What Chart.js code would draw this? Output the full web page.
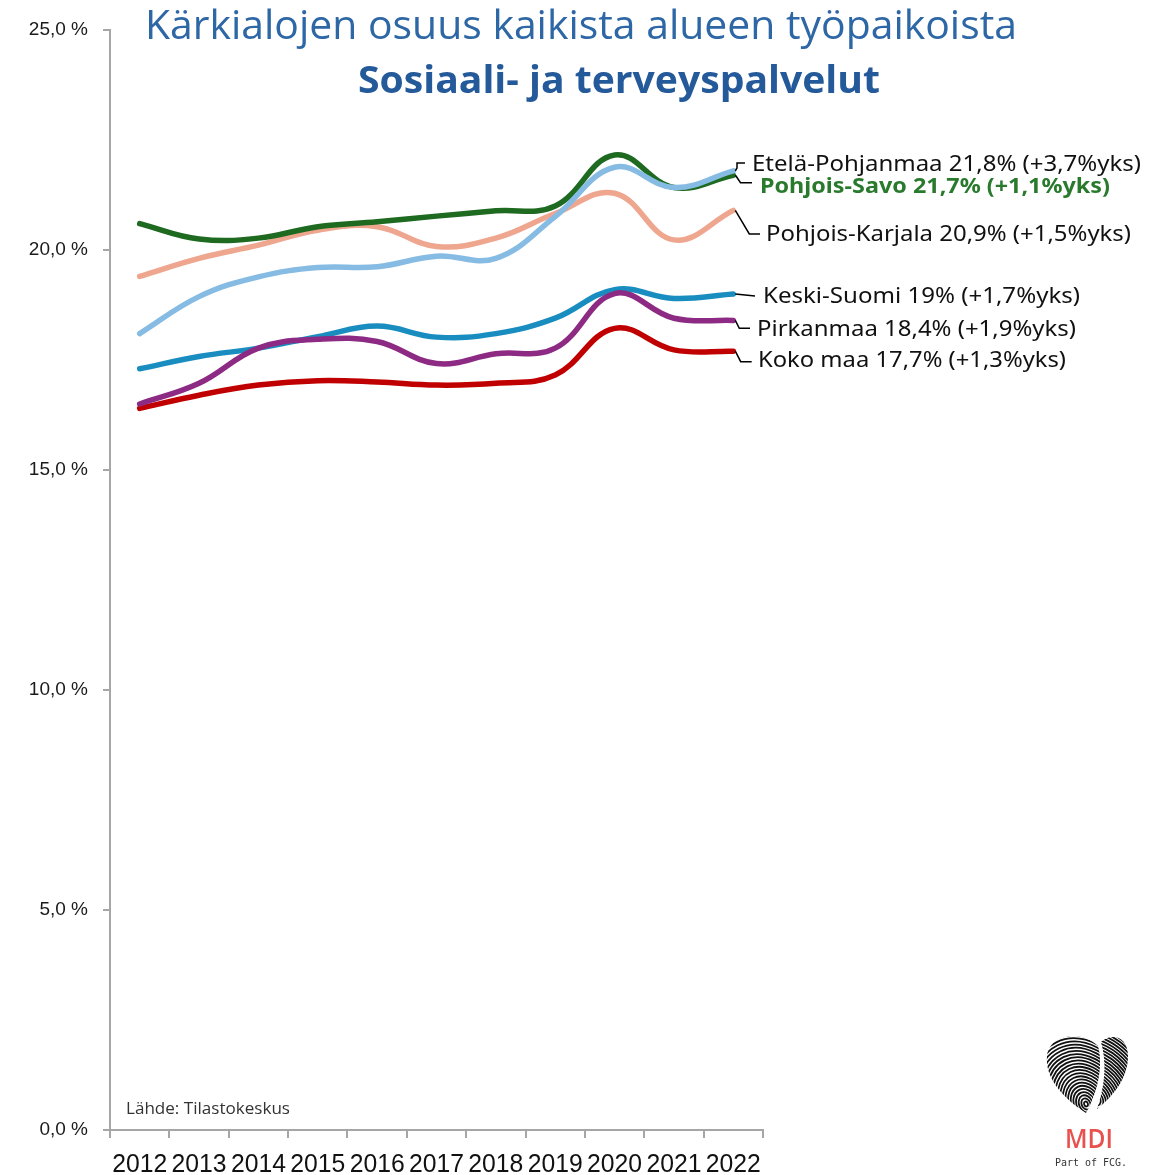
<!DOCTYPE html>
<html lang="fi">
<head>
<meta charset="utf-8">
<title>Kärkialojen osuus kaikista alueen työpaikoista</title>
<script src="https://cdn.jsdelivr.net/npm/chart.js@4/dist/chart.umd.min.js"></script>
<style>
  html, body { margin: 0; padding: 0; background: #ffffff; }
  #wrap { position: relative; width: 1150px; height: 1175px; }
  canvas { display: block; }
</style>
</head>
<body>
<div id="wrap"><canvas id="chart" width="1150" height="1175"></canvas></div>
<script>
// Vuodet (x-akseli)
const years = ['2012', '2013', '2014', '2015', '2016', '2017', '2018', '2019', '2020', '2021', '2022'];

// Sosiaali- ja terveyspalvelujen osuus kaikista työpaikoista, %
const pohjoisSavo    = [20.6, 20.25, 20.27, 20.53, 20.64, 20.77, 20.89, 21.0, 22.16, 21.42, 21.7];
const etelaPohjanmaa = [18.1, 18.94, 19.39, 19.6, 19.62, 19.86, 19.81, 20.76, 21.88, 21.42, 21.8];
const pohjoisKarjala = [19.4, 19.81, 20.11, 20.45, 20.53, 20.08, 20.27, 20.83, 21.29, 20.23, 20.9];
const keskiSuomi     = [17.3, 17.58, 17.77, 18.03, 18.27, 18.02, 18.1, 18.45, 19.1, 18.9, 19.0];
const pirkanmaa      = [16.5, 16.97, 17.77, 17.97, 17.92, 17.42, 17.64, 17.77, 19.01, 18.45, 18.4];
const kokoMaa        = [16.4, 16.7, 16.93, 17.03, 17.0, 16.93, 16.97, 17.16, 18.22, 17.73, 17.7];

// Y-akselin jaotus
const yTicks = [0, 5, 10, 15, 20, 25];

// Sarjojen nimet ja loppuarvojen selitteet
const seriesNames = ['Etelä-Pohjanmaa', 'Pohjois-Savo', 'Pohjois-Karjala', 'Keski-Suomi', 'Pirkanmaa', 'Koko maa'];
const endLabels = [
  'Etelä-Pohjanmaa 21,8% (+3,7%yks)',
  'Pohjois-Savo 21,7% (+1,1%yks)',
  'Pohjois-Karjala 20,9% (+1,5%yks)',
  'Keski-Suomi 19% (+1,7%yks)',
  'Pirkanmaa 18,4% (+1,9%yks)',
  'Koko maa 17,7% (+1,3%yks)'
];

const colors = {
  etela: '#86bbe3',
  savo: '#1d6a20',
  karjala: '#efa68e',
  keski: '#1a8dc0',
  pirkanmaa: '#8c2a84',
  koko: '#c00000'
};

const AXIS_COLOR = '#a6a6a6';

// Piirtää tekstin annettuun leveyteen vaakasuunnassa sovitettuna
function fitText(ctx, text, x, y, font, width, align) {
  ctx.save();
  ctx.font = font;
  ctx.textBaseline = 'alphabetic';
  ctx.textAlign = 'left';
  const w = ctx.measureText(text).width;
  const sx = width / w;
  let left = x;
  if (align === 'center') left = x - width / 2;
  else if (align === 'right') left = x - width;
  ctx.translate(left, y);
  ctx.scale(sx, 1);
  ctx.fillText(text, 0, 0);
  ctx.restore();
}

// Selitetekstien sijainnit ja johtoviivojen taitekohdat
const labelLayout = [
  { ds: 0, x: 752, y: 170.5, w: 389, font: '21px "Noto Sans"', color: '#111', path: [[737, 168], [737, 163], [745, 163]] },
  { ds: 1, x: 760, y: 192.5, w: 350, font: 'bold 21px "Noto Sans"', color: '#2a7a2e', path: [[736, 176], [740.5, 182.7], [752, 182.7]] },
  { ds: 2, x: 766, y: 241, w: 365, font: '21px "Noto Sans"', color: '#111', path: [[749.3, 234], [760, 234]] },
  { ds: 3, x: 763, y: 303, w: 317, font: '21px "Noto Sans"', color: '#111', path: [[755, 296]] },
  { ds: 4, x: 757, y: 335.5, w: 319, font: '21px "Noto Sans"', color: '#111', path: [[739.3, 328.3], [750, 328.3]] },
  { ds: 5, x: 758, y: 366.5, w: 308, font: '21px "Noto Sans"', color: '#111', path: [[740.7, 361.7], [751.7, 361.7]] }
];

const endLabelPlugin = {
  id: 'endLabels',
  afterDatasetsDraw(chart) {
    const ctx = chart.ctx;
    labelLayout.forEach(l => {
      const meta = chart.getDatasetMeta(l.ds);
      const pt = meta.data[meta.data.length - 1];
      ctx.save();
      ctx.strokeStyle = '#000';
      ctx.lineWidth = 1.5;
      ctx.lineJoin = 'miter';
      ctx.beginPath();
      ctx.moveTo(pt.x + 2, pt.y);
      l.path.forEach(p => ctx.lineTo(p[0], p[1]));
      ctx.stroke();
      ctx.fillStyle = l.color;
      fitText(ctx, endLabels[l.ds], l.x, l.y, l.font, l.w, 'left');
      ctx.restore();
    });
  }
};

// X-akselin vuosiluvut kapeana tekstinä
const xLabelPlugin = {
  id: 'xLabels',
  afterDraw(chart) {
    const ctx = chart.ctx;
    const xs = chart.scales.x;
    ctx.save();
    ctx.fillStyle = '#111';
    years.forEach((y, i) => {
      fitText(ctx, y, xs.getPixelForTick(i), 1172, '26px "Liberation Sans"', 55, 'center');
    });
    ctx.restore();
  }
};

// Sormenjälkisydän ja MDI-tunnus
function drawLogo(ctx) {
  ctx.save();
  const lobes = [
    p => { p.moveTo(1086, 1113); p.bezierCurveTo(1060, 1096, 1045, 1076, 1047, 1056); p.bezierCurveTo(1049, 1034, 1082, 1030, 1098, 1046); p.bezierCurveTo(1103, 1064, 1099, 1090, 1086, 1113); },
    p => { p.moveTo(1101, 1042); p.bezierCurveTo(1110, 1033, 1128, 1035, 1128, 1056); p.bezierCurveTo(1128, 1076, 1116, 1094, 1097, 1109); p.bezierCurveTo(1105, 1086, 1107, 1063, 1101, 1042); }
  ];
  lobes.forEach((make, k) => {
    ctx.save();
    ctx.beginPath();
    make(ctx);
    ctx.closePath();
    ctx.clip();
    ctx.strokeStyle = '#111';
    ctx.lineWidth = 1.8;
    const cx = k === 0 ? 1086 : 1096;
    const cy = k === 0 ? 1104 : 1100;
    for (let r = 2.5; r < 95; r += 3.3) {
      ctx.beginPath();
      ctx.ellipse(cx, cy, r * 0.75, r, -0.45, 0, Math.PI * 2);
      ctx.stroke();
    }
    ctx.restore();
  });
  ctx.fillStyle = '#e9514f';
  fitText(ctx, 'MDI', 1089, 1148, '600 27px "Open Sans"', 48, 'center');
  ctx.fillStyle = '#333';
  fitText(ctx, 'Part of FCG.', 1091, 1166, '10px "DejaVu Sans Mono"', 72, 'center');
  ctx.restore();
}

const decorPlugin = {
  id: 'decor',
  afterDraw(chart) {
    const ctx = chart.ctx;
    ctx.save();
    ctx.fillStyle = '#2d67a5';
    fitText(ctx, 'Kärkialojen osuus kaikista alueen työpaikoista', 581, 39, '40px "Open Sans"', 872, 'center');
    ctx.fillStyle = '#24599a';
    fitText(ctx, 'Sosiaali- ja terveyspalvelut', 619, 93, 'bold 37px "Open Sans"', 522, 'center');
    ctx.fillStyle = '#333';
    fitText(ctx, 'Lähde: Tilastokeskus', 126, 1114, '16px "Open Sans"', 164, 'left');
    drawLogo(ctx);
    ctx.restore();
  }
};

function lineDs(label, data, color, order) {
  return {
    label, data,
    borderColor: color,
    backgroundColor: color,
    borderWidth: 5.5,
    tension: 0.4,
    pointRadius: 0,
    borderCapStyle: 'round',
    borderJoinStyle: 'round',
    fill: false,
    order
  };
}

new Chart(document.getElementById('chart'), {
  type: 'line',
  data: {
    labels: years,
    datasets: [
      lineDs(seriesNames[0], etelaPohjanmaa, colors.etela, 0),
      lineDs(seriesNames[1], pohjoisSavo, colors.savo, 1),
      lineDs(seriesNames[2], pohjoisKarjala, colors.karjala, 2),
      lineDs(seriesNames[3], keskiSuomi, colors.keski, 4),
      lineDs(seriesNames[4], pirkanmaa, colors.pirkanmaa, 3),
      lineDs(seriesNames[5], kokoMaa, colors.koko, 5)
    ]
  },
  options: {
    responsive: false,
    animation: false,
    layout: { padding: { top: 30, right: 387, bottom: 0, left: 0 } },
    plugins: {
      legend: { display: false },
      tooltip: { enabled: false },
      title: { display: false }
    },
    scales: {
      x: {
        type: 'category',
        offset: true,
        grid: {
          display: true,
          offset: true,
          drawOnChartArea: false,
          drawTicks: true,
          tickLength: 8,
          color: AXIS_COLOR,
          lineWidth: 2
        },
        border: { display: true, color: AXIS_COLOR, width: 2 },
        ticks: { color: 'rgba(0,0,0,0)', font: { size: 12 }, maxRotation: 0, autoSkip: false },
        afterFit(scale) { scale.height = 45; }
      },
      y: {
        min: 0,
        max: 25,
        afterBuildTicks(scale) { scale.ticks = yTicks.map(v => ({ value: v })); },
        grid: {
          display: true,
          drawOnChartArea: false,
          drawTicks: true,
          tickLength: 7,
          color: AXIS_COLOR,
          lineWidth: 2
        },
        border: { display: true, color: AXIS_COLOR, width: 2 },
        ticks: {
          padding: 15,
          color: '#1a1a1a',
          font: { family: '"Liberation Sans"', size: 19 },
          callback: v => v.toFixed(1).replace('.', ',') + ' %'
        },
        afterFit(scale) { scale.width = 110; }
      }
    }
  },
  plugins: [endLabelPlugin, xLabelPlugin, decorPlugin]
});
</script>
</body>
</html>
